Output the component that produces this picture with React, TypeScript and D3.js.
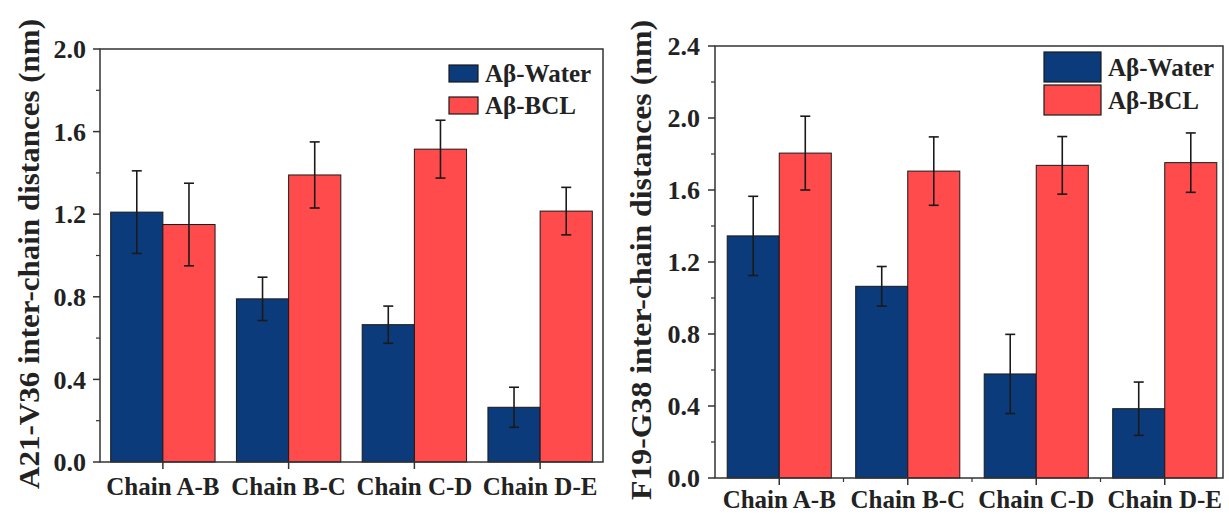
import * as d3 from "d3";
import React from "react";

// categories shared by both panels
const categories = ["Chain A-B", "Chain B-C", "Chain C-D", "Chain D-E"];
const seriesNames = ["Aβ-Water", "Aβ-BCL"];

// A21-V36 panel (left)
const a21WaterMean = [1.21, 0.79, 0.665, 0.265];
const a21WaterErr = [0.2, 0.105, 0.09, 0.097];
const a21BclMean = [1.15, 1.39, 1.515, 1.215];
const a21BclErr = [0.2, 0.16, 0.14, 0.115];
const a21Ticks = [0, 0.4, 0.8, 1.2, 1.6, 2.0];

// F19-G38 panel (right)
const f19WaterMean = [1.345, 1.065, 0.578, 0.385];
const f19WaterErr = [0.22, 0.11, 0.22, 0.148];
const f19BclMean = [1.805, 1.705, 1.737, 1.752];
const f19BclErr = [0.205, 0.19, 0.16, 0.165];
const f19Ticks = [0, 0.4, 0.8, 1.2, 1.6, 2.0, 2.4];

const BLUE = "#0b3b7b";
const RED = "#ff4b4b";
const INK = "#1a1a1a";
const FONT = "'Liberation Serif', 'Times New Roman', serif";

interface PanelProps {
  title: string
  water: number[]
  waterErr: number[]
  bcl: number[]
  bclErr: number[]
  ticks: number[]
  left: number
  right: number
  bandRight: number
  top: number
  bottom: number
  pad: number
  titleX: number
  titleY: number
  titleLen: number
  labelGap: number
  xLabelDy: number
  xMinor: boolean
  legend: { x: number, y: number, w: number, h: number, gap: number, tx: number }
}

const Panel: React.FC<PanelProps> = (p) => {
  const maxV = p.ticks[p.ticks.length - 1];
  const y = d3.scaleLinear().domain([0, maxV]).range([p.bottom, p.top]);
  const x0 = d3.scaleBand<string>()
    .domain(categories)
    .range([p.left, p.bandRight])
    .paddingInner(p.pad)
    .paddingOuter(p.pad / 2);
  const x1 = d3.scaleBand<string>().domain(seriesNames).range([0, x0.bandwidth()]);
  const step = x0.step();

  const series = [
    { name: seriesNames[0], vals: p.water, errs: p.waterErr, color: BLUE },
    { name: seriesNames[1], vals: p.bcl, errs: p.bclErr, color: RED },
  ];

  const minor = p.ticks.slice(1).map((t, i) => (t + p.ticks[i]) / 2);

  return (
    <g>
      {/* bars */}
      {series.map((s) =>
        categories.map((c, i) => (
          <rect key={s.name + c}
            x={(x0(c) ?? 0) + (x1(s.name) ?? 0)}
            y={y(s.vals[i])}
            width={x1.bandwidth()}
            height={p.bottom - y(s.vals[i])}
            fill={s.color} stroke={INK} strokeWidth={1} />
        ))
      )}
      {/* error bars */}
      {series.map((s) =>
        categories.map((c, i) => {
          const cx = (x0(c) ?? 0) + (x1(s.name) ?? 0) + x1.bandwidth() / 2;
          const hi = y(s.vals[i] + s.errs[i]);
          const lo = y(s.vals[i] - s.errs[i]);
          return (
            <g key={"e" + s.name + c} stroke={INK} strokeWidth={1.6}>
              <line x1={cx} x2={cx} y1={hi} y2={lo} />
              <line x1={cx - 5} x2={cx + 5} y1={hi} y2={hi} />
              <line x1={cx - 5} x2={cx + 5} y1={lo} y2={lo} />
            </g>
          );
        })
      )}
      {/* frame */}
      <rect x={p.left} y={p.top} width={p.right - p.left} height={p.bottom - p.top}
        fill="none" stroke="#333" strokeWidth={1.5} />
      {/* y ticks */}
      {p.ticks.map((t) => (
        <g key={"yt" + t}>
          <line x1={p.left - 7} x2={p.left} y1={y(t)} y2={y(t)} stroke="#333" strokeWidth={1.5} />
          <text x={p.left - p.labelGap} y={y(t)} dy="0.35em" textAnchor="end"
            fontFamily={FONT} fontWeight="bold" fontSize={26} fill="#222">{t.toFixed(1)}</text>
        </g>
      ))}
      {minor.map((t) => (
        <line key={"ym" + t} x1={p.left - 4} x2={p.left} y1={y(t)} y2={y(t)} stroke="#333" strokeWidth={1.2} />
      ))}
      {/* x ticks */}
      {categories.map((c, i) => {
        const cx = (x0(c) ?? 0) + x0.bandwidth() / 2;
        return (
          <g key={"xt" + c}>
            <line x1={cx} x2={cx} y1={p.bottom} y2={p.bottom + 7} stroke="#333" strokeWidth={1.5} />
            {p.xMinor && i > 0 && (
              <line x1={cx - step / 2} x2={cx - step / 2} y1={p.bottom} y2={p.bottom + 4} stroke="#333" strokeWidth={1.2} />
            )}
            <text x={cx} y={p.bottom + p.xLabelDy} textAnchor="middle"
              fontFamily={FONT} fontWeight="bold" fontSize={25} fill="#222">{c}</text>
          </g>
        );
      })}
      {/* y title */}
      <text transform={`translate(${p.titleX},${p.titleY}) rotate(-90)`}
        textAnchor="middle" fontFamily={FONT} fontWeight="bold" fontSize={30} fill="#222"
        textLength={p.titleLen} lengthAdjust="spacingAndGlyphs">{p.title}</text>
      {/* legend */}
      {series.map((s, i) => (
        <g key={"lg" + s.name}>
          <rect x={p.legend.x} y={p.legend.y + i * p.legend.gap} width={p.legend.w} height={p.legend.h}
            fill={s.color} stroke={INK} strokeWidth={1.2} />
          <text x={p.legend.tx} y={p.legend.y + i * p.legend.gap + p.legend.h / 2} dy="0.35em"
            fontFamily={FONT} fontWeight="bold" fontSize={25} fill="#222">{s.name}</text>
        </g>
      ))}
    </g>
  );
};

export default function App() {
  return (
    <svg width={1229} height={514} style={{ position: "absolute", left: 0, top: 0, background: "#fff" }}>
      <Panel title="A21-V36 inter-chain distances (nm)"
        water={a21WaterMean} waterErr={a21WaterErr} bcl={a21BclMean} bclErr={a21BclErr}
        ticks={a21Ticks} left={100} right={603} bandRight={603} top={49} bottom={462} pad={0.17}
        titleX={39} titleY={254} titleLen={470} labelGap={14} xLabelDy={33} xMinor={false}
        legend={{ x: 449, y: 65, w: 29, h: 17, gap: 32, tx: 485 }} />
      <Panel title="F19-G38 inter-chain distances (nm)"
        water={f19WaterMean} waterErr={f19WaterErr} bcl={f19BclMean} bclErr={f19BclErr}
        ticks={f19Ticks} left={715} right={1223} bandRight={1229} top={46} bottom={478} pad={0.19}
        titleX={651} titleY={260} titleLen={480} labelGap={15} xLabelDy={30} xMinor={true}
        legend={{ x: 1044, y: 52, w: 57, h: 30, gap: 33, tx: 1108 }} />
    </svg>
  );
}
